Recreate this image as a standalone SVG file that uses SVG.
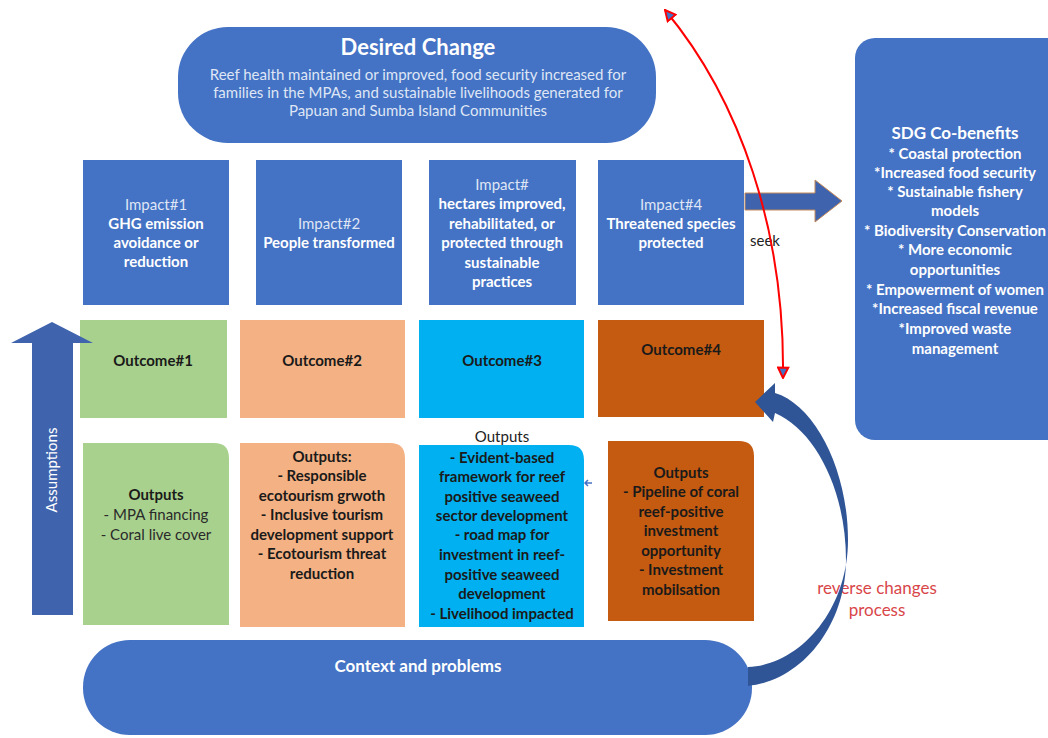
<svg xmlns="http://www.w3.org/2000/svg" width="1048" height="738" viewBox="0 0 1048 738">
<defs>
<style>
text{font-family:Lato,"Liberation Sans",sans-serif;text-anchor:middle}
.w{fill:#ffffff;font-size:15px}
.wb{fill:#ffffff;font-size:15px;font-weight:bold}
.wl{fill:#dfe6f5;font-size:15px}
.d{fill:#1a1a1a;font-size:15px;font-weight:bold}
.dn{fill:#2a2a2a;font-size:15px}
.blue{fill:#4472c4}
</style>
<marker id="rh" viewBox="0 0 10 10" refX="9" refY="5" markerWidth="13" markerHeight="13" orient="auto-start-reverse" markerUnits="userSpaceOnUse">
<path d="M1,1 L9,5 L1,9 Z" fill="#4472c4" stroke="#ff0000" stroke-width="1.5"/>
</marker>
</defs>
<rect width="1048" height="738" fill="#ffffff"/>

<g id="desired-change">
<rect x="178" y="27" width="478" height="116" rx="50" class="blue"/>
<text x="418" y="55" class="wb" style="font-size:22px">Desired Change</text>
<text x="418" y="80" class="wl">Reef health maintained or improved, food security increased for</text>
<text x="418" y="98" class="wl">families in the MPAs, and sustainable livelihoods generated for</text>
<text x="418" y="116" class="wl">Papuan and Sumba Island Communities</text>
</g>

<g id="seek-label">
<text x="765" y="246" style="font-size:15px;fill:#222">seek</text>
</g>

<g id="impact1">
<rect x="83" y="160" width="146" height="145" class="blue"/>
<text x="156" y="210" class="wl">Impact#1</text>
<text x="156" y="229" class="wb">GHG emission</text>
<text x="156" y="248" class="wb">avoidance or</text>
<text x="156" y="267" class="wb">reduction</text>
</g>
<g id="impact2">
<rect x="256" y="160" width="146" height="145" class="blue"/>
<text x="329" y="229" class="wl">Impact#2</text>
<text x="329" y="248" class="wb">People transformed</text>
</g>
<g id="impact3">
<rect x="429" y="160" width="147" height="145" class="blue"/>
<text x="502" y="190" class="wl">Impact#</text>
<text x="502" y="209" class="wb">hectares improved,</text>
<text x="502" y="229" class="wb">rehabilitated, or</text>
<text x="502" y="248" class="wb">protected through</text>
<text x="502" y="268" class="wb">sustainable</text>
<text x="502" y="287" class="wb">practices</text>
</g>
<g id="impact4">
<rect x="598" y="160" width="146" height="145" class="blue"/>
<text x="671" y="210" class="wl">Impact#4</text>
<text x="671" y="229" class="wb">Threatened species</text>
<text x="671" y="248" class="wb">protected</text>
</g>

<g id="sdg">
<rect x="855" y="38" width="213" height="402" rx="20" class="blue"/>
<text x="955" y="139" class="wb" style="font-size:17px">SDG Co-benefits</text>
<text x="955" y="159" class="wb">* Coastal protection</text>
<text x="955" y="178" class="wb">*Increased food security</text>
<text x="955" y="197" class="wb">* Sustainable fishery</text>
<text x="955" y="216" class="wb">models</text>
<text x="955" y="236" class="wb">* Biodiversity Conservation</text>
<text x="955" y="255" class="wb">* More economic</text>
<text x="955" y="275" class="wb">opportunities</text>
<text x="955" y="295" class="wb">* Empowerment of women</text>
<text x="955" y="314" class="wb">*Increased fiscal revenue</text>
<text x="955" y="334" class="wb">*Improved  waste</text>
<text x="955" y="354" class="wb">management</text>
</g>

<g id="outcome1">
<rect x="80" y="320" width="147" height="98" fill="#a9d18e"/>
<text x="153" y="366" class="d">Outcome#1</text>
</g>
<g id="outcome2">
<rect x="240" y="320" width="165" height="98" fill="#f4b183"/>
<text x="322" y="366" class="d">Outcome#2</text>
</g>
<g id="outcome3">
<rect x="419" y="320" width="165" height="98" fill="#00b0f0"/>
<text x="502" y="366" class="d">Outcome#3</text>
</g>
<g id="outcome4">
<rect x="598" y="320" width="166" height="97" fill="#c55a11"/>
<text x="681" y="355" class="d">Outcome#4</text>
</g>

<g id="outputs1">
<path d="M83,443 H214 Q229,443 229,458 V625 H83 Z" fill="#a9d18e"/>
<text x="156" y="500" class="d">Outputs</text>
<text x="156" y="520" class="dn">- MPA financing</text>
<text x="156" y="540" class="dn">- Coral live cover</text>
</g>
<g id="outputs2">
<path d="M240,443 H390 Q405,443 405,458 V627 H240 Z" fill="#f4b183"/>
<text x="322" y="462" class="d">Outputs:</text>
<text x="322" y="481" class="d">- Responsible</text>
<text x="322" y="501" class="d">ecotourism grwoth</text>
<text x="322" y="520" class="d">- Inclusive tourism</text>
<text x="322" y="540" class="d">development support</text>
<text x="322" y="559" class="d">- Ecotourism threat</text>
<text x="322" y="579" class="d">reduction</text>
</g>
<g id="outputs3">
<path d="M419,445 H569 Q584,445 584,460 V627 H419 Z" fill="#00b0f0"/>
<text x="502" y="442" class="d" style="font-weight:normal;fill:#222">Outputs</text>
<text x="502" y="463" class="d">- Evident-based</text>
<text x="502" y="482" class="d">framework for reef</text>
<text x="502" y="502" class="d">positive seaweed</text>
<text x="502" y="521" class="d">sector development</text>
<text x="502" y="540" class="d">- road map for</text>
<text x="502" y="560" class="d">investment in reef-</text>
<text x="502" y="580" class="d">positive seaweed</text>
<text x="502" y="599" class="d">development</text>
<text x="502" y="619" class="d">- Livelihood impacted</text>
</g>
<g id="outputs4">
<path d="M608,441 H739 Q754,441 754,456 V621 H608 Z" fill="#c55a11"/>
<text x="681" y="478" class="d">Outputs</text>
<text x="681" y="497" class="d">- Pipeline of coral</text>
<text x="681" y="517" class="d">reef-positive</text>
<text x="681" y="536" class="d">investment</text>
<text x="681" y="556" class="d">opportunity</text>
<text x="681" y="575" class="d">- Investment</text>
<text x="681" y="595" class="d">mobilsation</text>
</g>

<g id="assumptions">
<path d="M32,615 V343 H11 L52,322 L93,343 H73 V615 Z" fill="#3f64ad"/>
<text x="0" y="0" class="w" transform="translate(57,470) rotate(-90)">Assumptions</text>
</g>

<g id="context">
<rect x="83" y="640" width="669" height="95" rx="47" class="blue"/>
<text x="418" y="672" class="wb" style="font-size:17px">Context and problems</text>
</g>

<g id="reverse-label">
<text x="877" y="594" style="font-size:17px;fill:#d9464a">reverse changes</text>
<text x="877" y="616" style="font-size:17px;fill:#d9464a">process</text>
</g>

<g id="connectors">
<path d="M745,193 H815 V180 L842,201 L815,222 V210 H745 Z" fill="#3f64ad" stroke="#c58a5a" stroke-width="1"/>
<path d="M755,402 L775,383 L775,393 C815,405 848,470 848,540 C848,610 800,665 748,667 L748,686 C805,680 846,622 846,560 C846,490 815,430 775,413 L773,422 Z" fill="#2f5597"/>
<path d="M665,10 C740,100 785,230 783,378" fill="none" stroke="#ff0000" stroke-width="2" marker-start="url(#rh)" marker-end="url(#rh)"/>
<path d="M592,483 H585 M588,480 L585,483 L588,486" fill="none" stroke="#4472c4" stroke-width="1.5"/>
</g>
</svg>
